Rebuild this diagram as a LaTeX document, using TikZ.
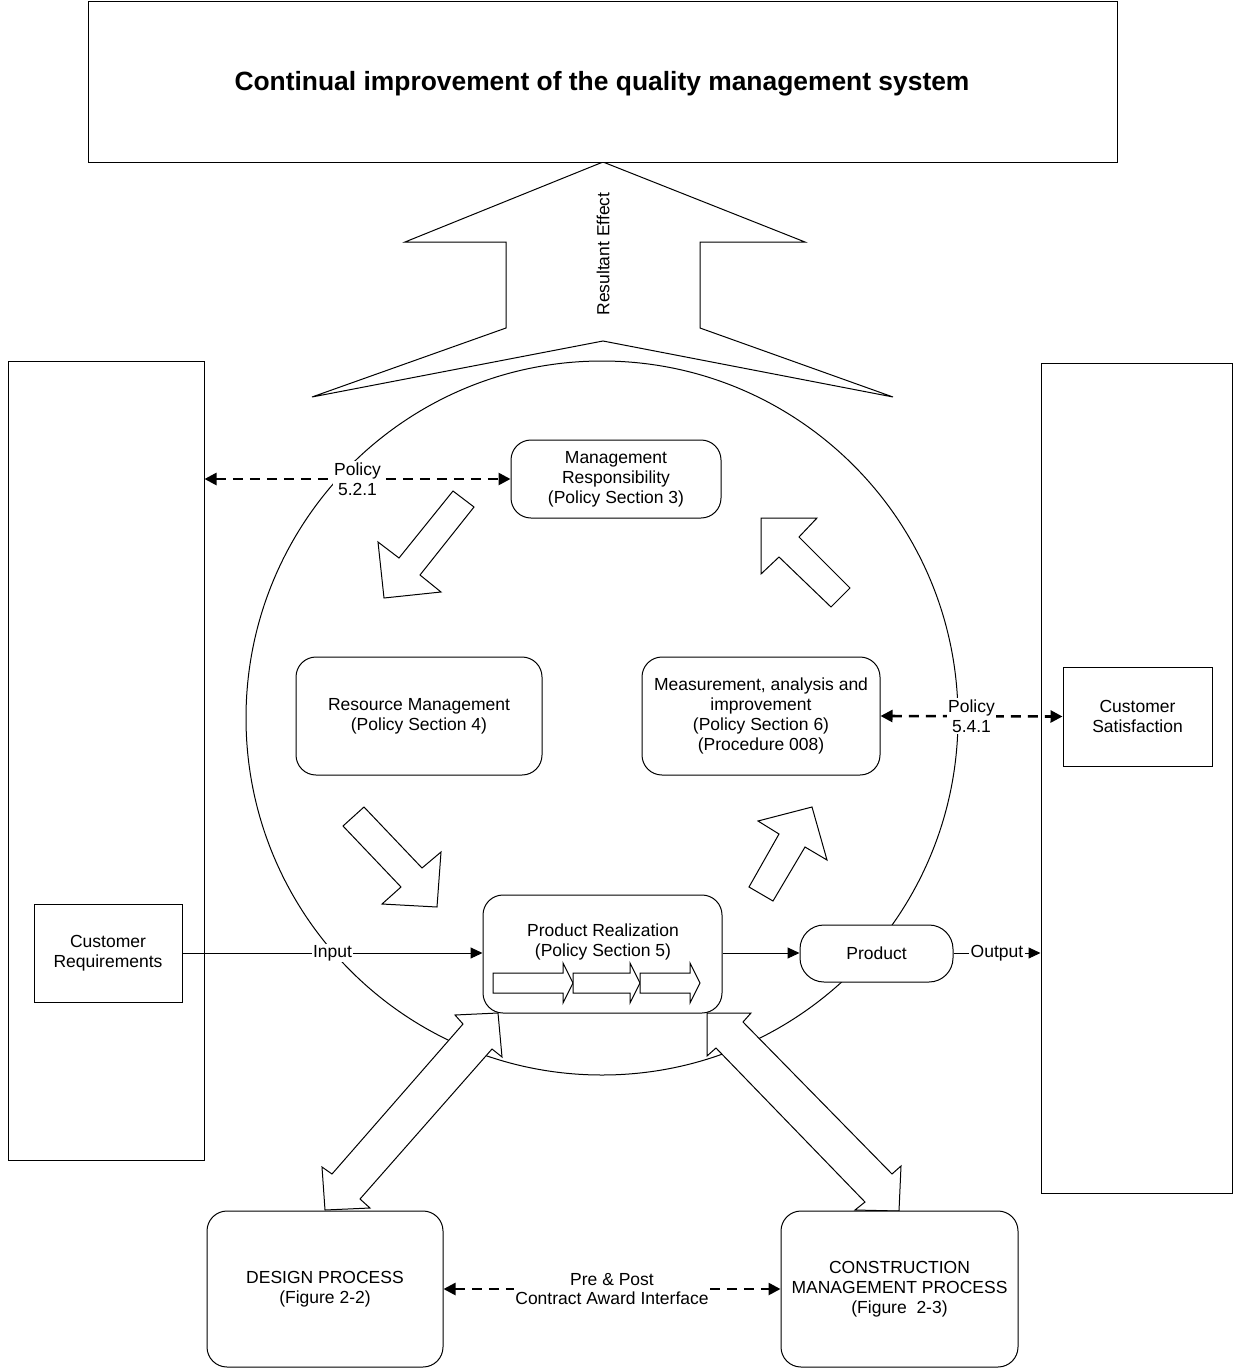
\documentclass[tikz,border=0pt]{standalone}
\usepackage{fontspec}
\setmainfont{Liberation Sans}
\usetikzlibrary{arrows.meta}
\newcommand\dgfont{\fontsize{17.5}{19.8}\selectfont}
\newcommand\dgtitle{\fontsize{26.4}{30}\selectfont\bfseries}
\begin{document}
\begin{tikzpicture}[x=1pt,y=-1pt,line width=1pt,line join=miter,
  plainbox/.style={draw,fill=white,align=center,font=\dgfont,inner sep=0pt},
  roundbox/.style={plainbox,rounded corners=20pt},
  blockarrow/.style={draw,fill=white,line width=1pt},
  lbl/.style={fill=white,align=center,font=\dgfont,inner sep=1.5pt},
  flow/.style={-{Triangle[length=12pt,width=11pt]}},
  dasharrow/.style={line width=2.6pt,dash pattern=on 10pt off 7pt,
    {Triangle[length=12pt,width=12pt]}-{Triangle[length=12pt,width=12pt]}}]
\useasboundingbox (0,0) rectangle (1233,1368);

% cycle of processes
\draw (602,718) ellipse [x radius=356, y radius=357];

% resultant effect arrow
\draw[blockarrow] (603,162) -- (805,242) -- (700,242) -- (700,328) -- (893,397)
  -- (603,341) -- (312,397) -- (506,328) -- (506,242) -- (405,242) -- cycle;
\node[rotate=90,font=\dgfont] (effect) at (603,254) {Resultant Effect};

\node[plainbox,minimum width=1029,minimum height=161] (top) at (602.5,81.5) {};
\node[font=\dgtitle] (title) at (602,84) {Continual improvement of the quality management system};

% customer columns
\node[plainbox,minimum width=196,minimum height=799] (lrect) at (106,760.5) {};
\node[plainbox,minimum width=191,minimum height=830] (rrect) at (1136.5,778) {};
\node[plainbox,minimum width=148,minimum height=98] (custreq) at (108,953)
  {Customer\\Requirements};
\node[plainbox,minimum width=149,minimum height=99] (custsat) at (1137.5,716.5)
  {Customer\\Satisfaction};

% cycle arrows
\draw[blockarrow] (453,491) -- (474,507) -- (420,575) -- (441,592) -- (384,598)
  -- (378,542) -- (399,558) -- cycle;
\draw[blockarrow] (761,518) -- (817,518) -- (799,537) -- (850,588) -- (831,607)
  -- (779,557) -- (761,574) -- cycle;
\draw[blockarrow] (364,807) -- (422,868) -- (441,852) -- (437,907) -- (382,904)
  -- (401,887) -- (343,826) -- cycle;
\draw[blockarrow] (758,821) -- (812,807) -- (827,860) -- (805,847) -- (773,901)
  -- (749,887) -- (779,834) -- cycle;

% process boxes
\node[roundbox,minimum width=210,minimum height=78] (mgmt) at (616,479)
  {Management\\Responsibility\\(Policy Section 3)};
\node[roundbox,minimum width=246,minimum height=118] (res) at (419,716)
  {Resource Management\\(Policy Section 4)};
\node[roundbox,minimum width=238,minimum height=118] (meas) at (761,716)
  {Measurement, analysis and\\improvement\\(Policy Section 6)\\(Procedure 008)};

% links to design and construction
\draw[blockarrow] (498,1013) -- (502,1057) -- (492,1049) -- (360,1199) -- (370,1208)
  -- (325,1210) -- (322,1167) -- (332,1174) -- (463,1024) -- (455,1015) -- cycle;
\draw[blockarrow] (707,1013) -- (751,1013) -- (743,1022) -- (892,1174) -- (901,1166)
  -- (899,1211) -- (855,1210) -- (865,1202) -- (716,1048) -- (707,1056) -- cycle;

\node[roundbox,minimum width=239,minimum height=118] (pr) at (602.5,954) {};
\node[font=\dgfont,align=center] (prtxt) at (603,942) {Product Realization\\(Policy Section 5)};
\draw[blockarrow] (493,973) -- (563,973) -- (563,963) -- (573,983) -- (563,1003)
  -- (563,993) -- (493,993) -- cycle;
\draw[blockarrow] (573,973) -- (630,973) -- (630,963) -- (640,983) -- (630,1003)
  -- (630,993) -- (573,993) -- cycle;
\draw[blockarrow] (640,973) -- (690,973) -- (690,963) -- (700,983) -- (690,1003)
  -- (690,993) -- (640,993) -- cycle;

\node[roundbox,rounded corners=24pt,minimum width=153,minimum height=57] (prod) at (876.5,953.5)
  {Product};

\node[roundbox,minimum width=236,minimum height=156] (design) at (325,1289)
  {DESIGN PROCESS\\(Figure 2-2)};
\node[roundbox,minimum width=237,minimum height=156] (constr) at (899.5,1289)
  {CONSTRUCTION\\MANAGEMENT PROCESS\\(Figure\ \ 2-3)};

% connectors
\draw[flow] (custreq.east) -- node[lbl] {Input} (pr.west |- custreq.east);
\draw[flow] (pr.east |- custreq.east) -- (prod.west |- custreq.east);
\draw[flow] (prod.east |- custreq.east) -- node[lbl] {Output} (rrect.west |- custreq.east);
\draw[dasharrow] (lrect.east |- mgmt.west) -- node[lbl] {Policy\\5.2.1} (mgmt.west);
\draw[dasharrow] (meas.east) -- node[lbl] {Policy\\5.4.1} (custsat.west);
\draw[dasharrow] (design.east) -- node[lbl] {Pre \& Post\\Contract Award Interface} (constr.west);
\end{tikzpicture}
\end{document}
